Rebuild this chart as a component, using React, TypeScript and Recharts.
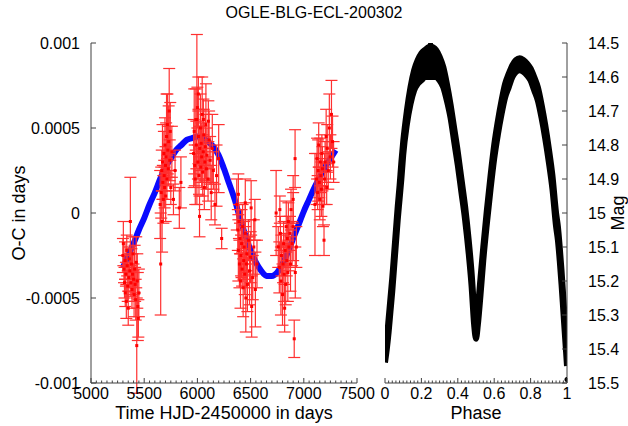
import React from 'react';
import { ComposedChart, Scatter, Line, Area, XAxis, YAxis, ErrorBar } from 'recharts';

const FONT = '"Liberation Sans", Arial, Helvetica, sans-serif';
const FRAME = '#404040';

// O-C timings (HJD-2450000), residual in days, error in days
const ocTime = [
  5300, 5304, 5310, 5315, 5320, 5322, 5328, 5332, 5336, 5340, 5345, 5350, 5355, 5360, 5365, 5370,
  5375, 5380, 5385, 5390, 5395, 5400, 5405, 5410, 5415, 5420, 5425, 5430, 5435, 5440, 5445, 5450,
  5650, 5655, 5660, 5665, 5668, 5672, 5675, 5680, 5685, 5688, 5692, 5695, 5700, 5702, 5706, 5710,
  5714, 5718, 5722, 5726, 5730, 5735, 5740, 5745, 5750, 5760, 5775, 5790, 5830, 5845,
  5965, 5970, 5975, 5980, 5985, 5990, 5995, 6000, 6005, 6009, 6010, 6015, 6020, 6022, 6028, 6032,
  6036, 6040, 6045, 6050, 6055, 6056, 6060, 6065, 6070, 6075, 6080, 6085, 6090, 6100, 6103, 6110,
  6120, 6130, 6140, 6150, 6165, 6180, 6200, 6228,
  6370, 6380, 6385, 6385, 6390, 6395, 6400, 6405, 6410, 6415, 6420, 6425, 6430, 6435, 6440, 6445,
  6450, 6450, 6455, 6460, 6465, 6470, 6480, 6490, 6500, 6505, 6510, 6520, 6530, 6540, 6545, 6560,
  6740, 6775,
  6760, 6770, 6780, 6785, 6790, 6800, 6805, 6810, 6815, 6820, 6825, 6830, 6835, 6840, 6845, 6850,
  6855, 6860, 6870, 6875, 6880, 6890, 6900, 6900, 6910, 6918, 6920, 6930,
  7105, 7120, 7125, 7130, 7135, 7140, 7145, 7150, 7155, 7160, 7165, 7170, 7175, 7180, 7190, 7195,
  7200, 7210, 7215, 7220, 7230, 7240, 7250, 7260, 7270, 7280,
];
const ocValue = [
  -0.00025, -0.00018, -0.00033, -0.00041, -0.00028, -0.00047, -0.00036, -0.00052, -0.00022, -0.00031, -0.00043, -0.00056, -0.00038, -0.00027, -0.00034, -0.00005,
  -0.00041, -0.0003, -0.00045, -0.00036, -0.00024, -0.00039, -0.00048, -0.00033, -0.00042, -0.00051, -0.00029, -0.00078, -0.0004, -0.00055, -0.00062, -0.00047,
  0.00005, -0.0003, 0.00012, 0.00025, -0.00005, 0.0003, 0.00018, 0.00008, 0.00035, 0.00022, 0.00015, 0.0004, 0.00028, 0.0001, 0.00033, 0.00045,
  0.0002, 0.00052, 0.00037, 0.00026, 0.00042, 0.0006, 0.00031, 0.00048, 0.00015, 0.00036, 0.00008, 0.00025, 0.00003, 0.00018,
  0.00035, 0.00048, 0.00028, 0.0002, 0.00055, 0.0004, 0.00055, 0.00062, 0.0003, 0.0007, 0.00045, 0.00022, -0.00002, 0.00038, 0.0005, 0.00027,
  0.00041, 0.00033, 0.00058, 0.00024, 0.00036, 0.00055, 0.00046, 0.00015, 0.0003, 0.00039, 0.00052, 0.00026, 0.00034, 0.0002, 0.00054, 0.00043,
  0.00031, 0.00012, 0.00038, 0.00025, 0.00005, 0.00022, 0.00032, -0.00015,
  0.00005, -0.0001, -0.00022, 0.00011, -0.00005, -0.0003, -0.00015, -0.0004, -0.00025, -0.00018, -0.00033, -0.00008, -0.00044, -0.00028, -0.0002, -0.00036,
  -0.00012, 0.00006, -0.0005, -0.0003, -0.00024, -0.00042, -0.00016, -0.00034, -0.00026, 0.00003, -0.00055, -0.00038, -0.0002, -0.00004, -0.00045, -0.0003,
  0.0, 0.00002,
  -0.0002, -0.00032, -0.00012, -0.0004, -0.00025, -0.00048, -0.0003, -0.00018, -0.00036, -0.00056, -0.00022, -0.00042, -0.00008, -0.00028, -0.00015, -0.00035,
  -0.00005, -0.0002, -0.00012, -0.0003, 0.00002, -0.00018, -0.00008, 0.00008, -0.00074, 0.00032, -0.00035, -0.0002,
  0.00005, 0.0002, 0.00032, 0.00012, 0.00025, 0.0004, 0.00018, 0.00008, 0.0003, 0.00022, 0.00014, 0.00035, 0.00026, 0.00004, -0.00016, 0.0002,
  0.0003, 0.00045, 0.00015, 0.00038, 0.00025, 0.0005, 0.00033, 0.00058, 0.00042, 0.0003,
];
const ocError = [
  0.0001, 0.00013, 0.00008, 0.00009, 0.00011, 0.00008, 0.00007, 0.0001, 0.00009, 0.00006, 0.00009, 0.0001, 0.00008, 0.00007, 0.0001, 0.00026,
  0.00008, 0.00009, 0.00011, 0.00012, 0.0001, 0.00009, 0.00013, 0.00014, 0.0001, 0.00012, 0.00015, 0.00028, 0.00016, 0.0002, 0.00011, 0.00014,
  0.0002, 0.0003, 0.00015, 0.00012, 0.00018, 0.00022, 0.0001, 0.00014, 0.00013, 0.00009, 0.00012, 0.00016, 0.00011, 0.00015, 0.0002, 0.00025,
  0.00012, 0.00018, 0.00014, 0.0001, 0.00021, 0.00025, 0.00012, 0.00017, 0.0001, 0.00015, 0.00009, 0.00012, 0.00012, 0.00015,
  0.0002, 0.00025, 0.00012, 0.00015, 0.00018, 0.00014, 0.0005, 0.00012, 0.0001, 0.0001, 0.00016, 0.00011, 0.00012, 0.00013, 0.0002, 0.00009,
  0.00012, 0.00018, 0.00022, 0.00014, 0.0001, 0.00012, 0.00015, 0.00013, 0.00011, 0.00019, 0.00024, 0.00012, 0.00016, 0.00013, 0.00012, 0.00017,
  0.00014, 0.00016, 0.0002, 0.00011, 0.00012, 0.00018, 0.0002, 0.00006,
  0.00015, 0.00012, 0.00018, 0.00012, 0.0001, 0.00014, 0.00009, 0.00016, 0.00012, 0.0002, 0.0001, 0.00013, 0.00017, 0.00011, 0.00015, 0.00012,
  0.00018, 0.00014, 0.0002, 0.00014, 0.0001, 0.00016, 0.00012, 0.0002, 0.00015, 0.00016, 0.00018, 0.00013, 0.00016, 0.00012, 0.00022, 0.00014,
  0.00025, 0.00008,
  0.00012, 0.00015, 0.0001, 0.0002, 0.00012, 0.00018, 0.00011, 0.00013, 0.00016, 0.00014, 0.0001, 0.00012, 0.00015, 0.00009, 0.00013, 0.00017,
  0.00011, 0.00014, 0.0001, 0.00016, 0.00012, 0.00013, 0.0002, 0.00014, 0.00011, 0.00017, 0.00015, 0.00012,
  0.0003, 0.00015, 0.00012, 0.0001, 0.00018, 0.00013, 0.00009, 0.00012, 0.00014, 0.0001, 0.00016, 0.00011, 0.00013, 0.00012, 0.00009, 0.00015,
  0.00012, 0.00016, 0.0001, 0.00014, 0.00011, 0.0002, 0.00013, 0.0002, 0.00015, 0.00012,
];

// light-time fit
const fitTime = [
  5300, 5350, 5400, 5450, 5500, 5550, 5600, 5650, 5700, 5750, 5800, 5850, 5900, 5950, 6000, 6050, 6100, 6150, 6200, 6250, 6300,
  6350, 6400, 6450, 6500, 6550, 6600, 6650, 6700, 6750, 6800, 6850, 6900, 6950, 7000, 7050, 7100, 7150, 7200, 7250, 7300,
];
const fitValue = [
  -0.00032, -0.00025, -0.00018, -0.0001, -0.00003, 0.00005, 0.00012, 0.0002, 0.00027, 0.00032, 0.00037, 0.0004, 0.00043, 0.00044, 0.00045,
  0.00044, 0.00042, 0.00039, 0.00034, 0.00026, 0.00017, 0.00008, -0.00003, -0.00013, -0.00022, -0.00029, -0.00034, -0.00037, -0.00037,
  -0.00035, -0.0003, -0.00023, -0.00015, -0.00007, 0.00001, 0.00008, 0.00015, 0.00021, 0.00027, 0.00032, 0.00037,
];

// phased light curve: bright and faint edge of the scatter band
const phase = [
  0, 0.01, 0.02, 0.03, 0.04, 0.05, 0.06, 0.07, 0.08, 0.09, 0.1, 0.12, 0.14, 0.16, 0.18, 0.2, 0.22, 0.25, 0.28, 0.3, 0.32, 0.34,
  0.36, 0.38, 0.4, 0.42, 0.44, 0.46, 0.475, 0.49, 0.5, 0.51, 0.525, 0.54, 0.56, 0.58, 0.6, 0.62, 0.64, 0.66, 0.68, 0.7, 0.72,
  0.74, 0.76, 0.78, 0.8, 0.82, 0.84, 0.86, 0.88, 0.9, 0.92, 0.94, 0.95, 0.96, 0.97, 0.98, 0.99, 1,
];
const magBright = [
  15.41, 15.37, 15.31, 15.25, 15.19, 15.12, 15.05, 14.98, 14.92, 14.85, 14.79, 14.7, 14.63, 14.58, 14.55, 14.53, 14.52, 14.51, 14.52,
  14.54, 14.57, 14.62, 14.68, 14.75, 14.82, 14.9, 14.98, 15.08, 15.17, 15.28, 15.32, 15.28, 15.19, 15.1, 14.99, 14.89, 14.8, 14.73,
  14.67, 14.62, 14.59, 14.565, 14.55, 14.545, 14.55, 14.56, 14.575, 14.6, 14.63, 14.68, 14.74, 14.81, 14.89, 15.0, 15.04, 15.1,
  15.17, 15.25, 15.33, 15.41,
];
const magFaint = [
  15.44, 15.4, 15.35, 15.29, 15.23, 15.16, 15.09, 15.02, 14.96, 14.9, 14.83, 14.74, 14.68, 14.64, 14.62, 14.61, 14.6, 14.6, 14.6,
  14.61, 14.63, 14.67, 14.72, 14.79, 14.86, 14.94, 15.02, 15.12, 15.21, 15.33, 15.37, 15.33, 15.24, 15.14, 15.03, 14.93, 14.84, 14.77,
  14.71, 14.66, 14.63, 14.6, 14.585, 14.58, 14.585, 14.595, 14.61, 14.64, 14.67, 14.72, 14.78, 14.85, 14.93, 15.04, 15.08, 15.14,
  15.21, 15.29, 15.37, 15.45,
];
const outlierPhase = [0.25, 1];
const outlierMag = [14.5, 15.49];

const timeTicks = [5000, 5500, 6000, 6500, 7000, 7500];
const timeMinor = Array.from({ length: 51 }, (_, i) => 5000 + i * 50);
const ocTicks = [-0.001, -0.0005, 0, 0.0005, 0.001];
const phaseTicks = [0, 0.2, 0.4, 0.6, 0.8, 1];
const phaseMinor = Array.from({ length: 51 }, (_, i) => Number((i * 0.02).toFixed(2)));
const magTicks = [14.5, 14.6, 14.7, 14.8, 14.9, 15, 15.1, 15.2, 15.3, 15.4, 15.5];

const ocData = ocTime.map((t, i) => ({ t, v: ocValue[i], e: ocError[i] }));
const fitData = fitTime.map((t, i) => ({ t, v: fitValue[i] }));
const lcData = phase.map((p, i) => ({ p, band: [magBright[i], magFaint[i]] }));
const outData = outlierPhase.map((p, i) => ({ p, m: outlierMag[i] }));

const txt = { fontSize: 16, fontFamily: FONT, fill: '#000' };
const axisTitle = { ...txt, fontSize: 18 };

const makeXTick = (majors: number[], side: 'top' | 'bottom', showLabel: boolean) => (props: any) => {
  const { x, y, payload } = props;
  const major = majors.includes(payload.value);
  const len = major ? 5 : 2.5;
  const y2 = side === 'bottom' ? y - len : y + len;
  return (
    <g>
      <line x1={x} x2={x} y1={y} y2={y2} stroke={FRAME} />
      {showLabel && major && (
        <text x={x} y={y + 16} textAnchor="middle" {...txt}>
          {String(payload.value)}
        </text>
      )}
    </g>
  );
};

const makeYTick = (side: 'left' | 'right', labelDx: number | null) => (props: any) => {
  const { x, y, payload } = props;
  const x2 = side === 'left' ? x + 5 : x - 5;
  return (
    <g>
      <line x1={x} x2={x2} y1={y} y2={y} stroke={FRAME} />
      {labelDx !== null && (
        <text x={x + labelDx} y={y + 5.5} textAnchor={side === 'left' ? 'end' : 'start'} {...txt}>
          {String(payload.value)}
        </text>
      )}
    </g>
  );
};

const RedDot = (p: any) => <rect x={p.cx - 1.5} y={p.cy - 1.5} width={3} height={3} fill="#ff0000" />;
const BlackDot = (p: any) => <circle cx={p.cx} cy={p.cy} r={2.5} fill="#000" />;

export default function App() {
  return (
    <div style={{ position: 'absolute', left: 0, top: 0, width: 628, height: 426, background: '#fff', fontFamily: FONT }}>
      <div style={{ position: 'absolute', left: 0, top: 5, width: 628, textAlign: 'center', fontSize: 16, lineHeight: '16px' }}>
        OGLE-BLG-ECL-200302
      </div>

      <div style={{ position: 'absolute', left: 0, top: 0 }}>
        <ComposedChart width={390} height={426} margin={{ top: 43, right: 33, bottom: 0, left: 0 }}>
          <XAxis
            type="number" dataKey="t" domain={[5000, 7500]} allowDataOverflow ticks={timeMinor} interval={0}
            height={43} tickSize={0} tickMargin={0} tickLine={false} axisLine={{ stroke: FRAME }}
            tick={makeXTick(timeTicks, 'bottom', true)}
            label={{ value: 'Time HJD-2450000 in days', position: 'insideBottom', offset: 7, style: axisTitle }}
          />
          <XAxis
            xAxisId="top" orientation="top" type="number" domain={[5000, 7500]} allowDataOverflow ticks={timeMinor}
            interval={0} height={0} tickSize={0} tickMargin={0} tickLine={false} axisLine={{ stroke: FRAME }}
            tick={makeXTick(timeTicks, 'top', false)}
          />
          <YAxis
            type="number" dataKey="v" domain={[-0.001, 0.001]} allowDataOverflow ticks={ocTicks} interval={0}
            width={91} tickSize={0} tickMargin={0} tickLine={false} axisLine={{ stroke: FRAME }}
            tick={makeYTick('left', -11)}
            label={{ value: 'O-C in days', angle: -90, position: 'insideLeft', offset: 19, style: { ...axisTitle, textAnchor: 'middle' } }}
          />
          <YAxis
            yAxisId="right" orientation="right" type="number" domain={[-0.001, 0.001]} allowDataOverflow ticks={ocTicks}
            interval={0} width={0} tickSize={0} tickMargin={0} tickLine={false} axisLine={{ stroke: FRAME }}
            tick={makeYTick('right', null)}
          />
          <Line
            data={fitData} dataKey="v" type="monotone" stroke="#0a0aff" strokeWidth={6} dot={false}
            isAnimationActive={false}
          />
          <Scatter data={ocData} dataKey="v" shape={RedDot} isAnimationActive={false}>
            <ErrorBar dataKey="e" direction="y" width={6} stroke="#ff3030" strokeWidth={1.2} isAnimationActive={false} />
          </Scatter>
        </ComposedChart>
      </div>

      <div style={{ position: 'absolute', left: 370, top: 0 }}>
        <ComposedChart width={258} height={426} data={lcData} margin={{ top: 43, right: 0, bottom: 0, left: 15 }}>
          <XAxis
            type="number" dataKey="p" domain={[0, 1]} allowDataOverflow ticks={phaseMinor} interval={0}
            height={43} tickSize={0} tickMargin={0} tickLine={false} axisLine={{ stroke: FRAME }}
            tick={makeXTick(phaseTicks, 'bottom', true)}
            label={{ value: 'Phase', position: 'insideBottom', offset: 7, style: axisTitle }}
          />
          <XAxis
            xAxisId="top" orientation="top" type="number" domain={[0, 1]} allowDataOverflow ticks={phaseMinor}
            interval={0} height={0} tickSize={0} tickMargin={0} tickLine={false} axisLine={{ stroke: FRAME }}
            tick={makeXTick(phaseTicks, 'top', false)}
          />
          <YAxis
            type="number" domain={[14.5, 15.5]} reversed allowDataOverflow ticks={magTicks} interval={0}
            width={0} tickSize={0} tickMargin={0} tickLine={false} axisLine={{ stroke: FRAME }}
            tick={makeYTick('left', null)}
          />
          <YAxis
            yAxisId="right" orientation="right" type="number" domain={[14.5, 15.5]} reversed allowDataOverflow
            ticks={magTicks} interval={0} width={61} tickSize={0} tickMargin={0} tickLine={false}
            axisLine={{ stroke: FRAME }} tick={makeYTick('right', 21)}
            label={{ value: 'Mag', angle: -90, position: 'insideRight', offset: 10, style: { ...axisTitle, textAnchor: 'middle' } }}
          />
          <Area
            dataKey="band" type="monotone" stroke="#000" strokeWidth={6} strokeLinejoin="round" fill="#000"
            fillOpacity={1} isAnimationActive={false}
          />
          <Scatter data={outData} dataKey="m" shape={BlackDot} isAnimationActive={false} />
        </ComposedChart>
      </div>
    </div>
  );
}
